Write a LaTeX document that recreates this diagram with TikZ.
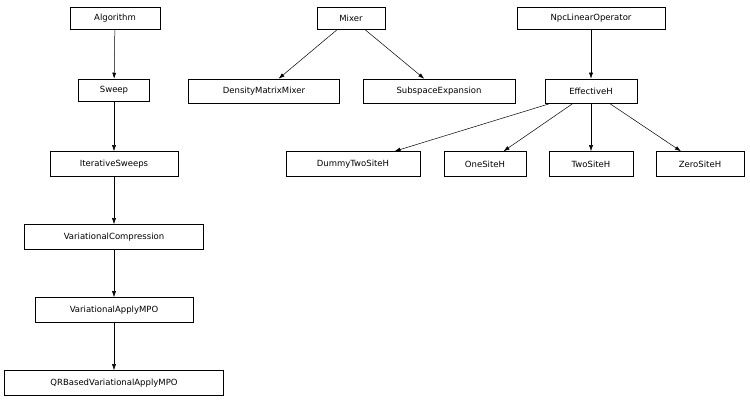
\documentclass[tikz,border=0pt]{standalone}
\usepackage{fontspec}
\setmainfont{DejaVu Sans}
\usetikzlibrary{arrows.meta}
\tikzset{cls/.style={draw, line width=0.5pt, minimum height=22pt, inner sep=2pt, font=\fontsize{8.5}{10}\selectfont},
  inh/.style={-{Latex[length=6pt,width=4pt]}, line width=0.5pt}}
\begin{document}
\begin{tikzpicture}[x=1pt,y=-1pt]
    \useasboundingbox (0,0) rectangle (750,403);
    % left column
    \node[cls, minimum width=90] (Alg) at (115,18) {Algorithm};
    \node[cls, minimum width=71] (Sweep) at (114,90) {Sweep};
    \node[cls, minimum width=128, minimum height=25] (Iter) at (114,164) {IterativeSweeps};
    \node[cls, minimum width=179, minimum height=25] (VarComp) at (114,237) {VariationalCompression};
    \node[cls, minimum width=158, minimum height=25] (VarApply) at (114,310) {VariationalApplyMPO};
    \node[cls, minimum width=219, minimum height=25] (QR) at (114,383) {QRBasedVariationalApplyMPO};
    % mixers
    \node[cls, minimum width=68] (Mixer) at (351,18) {Mixer};
    \node[cls, minimum width=151, minimum height=24] (DMM) at (264,91) {DensityMatrixMixer};
    \node[cls, minimum width=152, minimum height=24] (SubExp) at (439,91) {SubspaceExpansion};
    % effective hamiltonians
    \node[cls, minimum width=148] (Npc) at (591,18) {NpcLinearOperator};
    \node[cls, minimum width=92, minimum height=24] (EffH) at (591,91) {EffectiveH};
    \node[cls, minimum width=134, minimum height=25] (Dummy) at (353,164) {DummyTwoSiteH};
    \node[cls, minimum width=82, minimum height=25] (One) at (485,164) {OneSiteH};
    \node[cls, minimum width=84, minimum height=25] (Two) at (591,164) {TwoSiteH};
    \node[cls, minimum width=88, minimum height=25] (Zero) at (700,164) {ZeroSiteH};
    \draw[inh] (Alg) -- (Sweep);
    \draw[inh] (Sweep) -- (Iter);
    \draw[inh] (Iter) -- (VarComp);
    \draw[inh] (VarComp) -- (VarApply);
    \draw[inh] (VarApply) -- (QR);
    \draw[inh] (Mixer) -- (DMM);
    \draw[inh] (Mixer) -- (SubExp);
    \draw[inh] (Npc) -- (EffH);
    \draw[inh] (EffH) -- (Dummy);
    \draw[inh] (EffH) -- (One);
    \draw[inh] (EffH) -- (Two);
    \draw[inh] (EffH) -- (Zero);
\end{tikzpicture}
\end{document}
